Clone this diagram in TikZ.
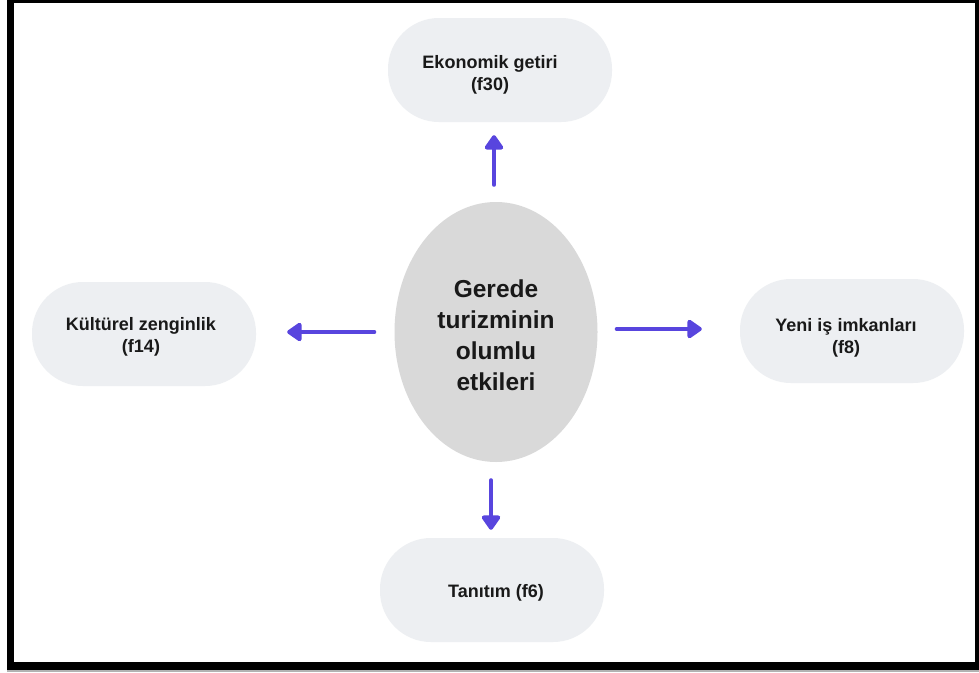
\documentclass[tikz,border=0pt]{standalone}
\usepackage{fontspec}
\setmainfont{Liberation Sans}
\usetikzlibrary{shapes.geometric,arrows.meta}
\definecolor{pillfill}{HTML}{EDEFF2}
\definecolor{ovalfill}{HTML}{D9D9D9}
\definecolor{arrowcol}{HTML}{5845DE}
\tikzset{
  pill/.style={rectangle, rounded corners=51pt, fill=pillfill, minimum width=224pt, minimum height=104pt, inner sep=0pt},
  pilltext/.style={align=center, inner sep=0pt, font=\fontsize{18}{22.5}\selectfont\bfseries, text=black!90},
  oval/.style={ellipse, fill=ovalfill, minimum width=203pt, minimum height=260pt, inner sep=0pt},
  ovaltext/.style={align=center, inner sep=0pt, font=\fontsize{24.5}{31}\selectfont\bfseries, text=black!90},
  conn/.style={draw=arrowcol, line width=4pt, line cap=round, -{Triangle[round, length=16pt, width=21pt]}}
}
\begin{document}
\begin{tikzpicture}[x=1pt,y=-1pt]
\useasboundingbox (0,0) rectangle (979,672);
\fill[white] (0,0) rectangle (979,672);
\fill[black!30] (7,668) rectangle (979,672);
\fill[black] (7,0) rectangle (979,670);
\fill[white] (14,3) rectangle (975,662);
\node[oval] (c) at (496,332) {};
\node[ovaltext] (ct) at (496,335) {Gerede\\turizminin\\olumlu\\etkileri};
\node[pill] (t) at (500,70) {};
\node[pilltext] (tt) at (490,75) {Ekonomik getiri\\(f30)};
\node[pill] (l) at (144,334) {};
\node[pilltext] (lt) at (141,337) {Kültürel zenginlik\\(f14)};
\node[pill] (r) at (852,331) {};
\node[pilltext] (rt) at (846,338) {Yeni iş imkanları\\(f8)};
\node[pill] (b) at (492,590) {};
\node[pilltext] (bt) at (496,593) {Tanıtım (f6)};
\draw[conn, shorten <=17pt, shorten >=13pt] ([xshift=-2pt]c.north) -- ([xshift=-2pt]c.north |- t.south);
\draw[conn, shorten <=20pt, shorten >=31pt] (c.west) -- (c.west -| l.east);
\draw[conn, shorten <=19pt, shorten >=38pt] ([yshift=3pt]c.east) -- ([yshift=3pt]c.east -| r.west);
\draw[conn, shorten <=18pt, shorten >=8pt] ([xshift=-5pt]c.south) -- ([xshift=-5pt]c.south |- b.north);
\end{tikzpicture}
\end{document}
